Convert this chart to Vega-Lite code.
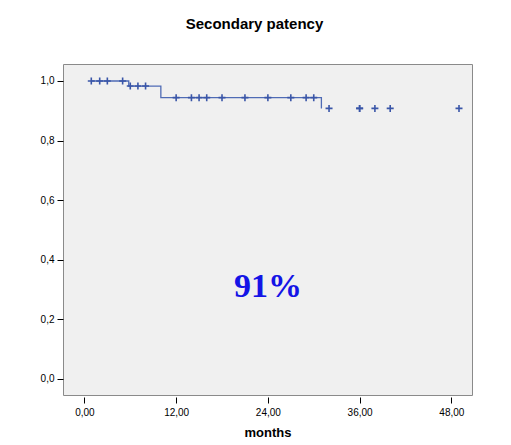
{
  "$schema": "https://vega.github.io/schema/vega-lite/v6.json",
  "width": 409,
  "height": 331,
  "autosize": "none",
  "padding": {"left": 63, "top": 64, "right": 39, "bottom": 50},
  "background": "white",
  "title": {
    "text": "Secondary patency",
    "font": "Liberation Sans",
    "fontSize": 15,
    "fontWeight": "bold",
    "color": "#000000",
    "anchor": "middle",
    "baseline": "alphabetic",
    "offset": 20,
    "dx": -13
  },
  "config": {
    "view": {"fill": "#f0f0f0", "stroke": "#8a8a8a", "strokeWidth": 1},
    "axis": {
      "grid": false,
      "domain": false,
      "tickColor": "#000000",
      "tickWidth": 1,
      "labelColor": "#000000",
      "labelFont": "Liberation Sans",
      "labelFontSize": 10,
      "titleFont": "Liberation Sans",
      "titleColor": "#000000"
    }
  },
  "datasets": {
    "curve": [
      {"month": 0.9, "survival": 1.0},
      {"month": 5.8, "survival": 0.983},
      {"month": 10.0, "survival": 0.944},
      {"month": 31.0, "survival": 0.908}
    ],
    "censored": [
      {"month": 0.9, "survival": 1.0},
      {"month": 2.0, "survival": 1.0},
      {"month": 3.0, "survival": 1.0},
      {"month": 5.0, "survival": 1.0},
      {"month": 6.0, "survival": 0.983},
      {"month": 7.0, "survival": 0.983},
      {"month": 8.0, "survival": 0.983},
      {"month": 12.0, "survival": 0.944},
      {"month": 14.0, "survival": 0.944},
      {"month": 15.0, "survival": 0.944},
      {"month": 16.0, "survival": 0.944},
      {"month": 18.0, "survival": 0.944},
      {"month": 21.0, "survival": 0.944},
      {"month": 24.0, "survival": 0.944},
      {"month": 27.0, "survival": 0.944},
      {"month": 29.0, "survival": 0.944},
      {"month": 30.0, "survival": 0.944},
      {"month": 32.0, "survival": 0.908},
      {"month": 36.0, "survival": 0.908},
      {"month": 36.0, "survival": 0.908},
      {"month": 38.0, "survival": 0.908},
      {"month": 40.0, "survival": 0.908},
      {"month": 49.0, "survival": 0.908}
    ],
    "annotation": [
      {"month": 24.0, "survival": 0.31, "label": "91%"}
    ]
  },
  "layer": [
    {
      "data": {"name": "curve"},
      "mark": {"type": "line", "interpolate": "step-after", "color": "#4f6bb5", "strokeWidth": 1.3},
      "encoding": {
        "x": {
          "field": "month",
          "type": "quantitative",
          "scale": {"domain": [-2.8, 50.7], "nice": false, "zero": false},
          "axis": {
            "values": [0, 12, 24, 36, 48],
            "labelExpr": "replace(format(datum.value, '.2f'), '.', ',')",
            "offset": 2,
            "tickSize": 6,
            "labelPadding": 12,
            "labelBaseline": "alphabetic",
            "title": "months",
            "titleFontSize": 13,
            "titleFontWeight": "bold",
            "titleBaseline": "alphabetic",
            "titleY": 39
          }
        },
        "y": {
          "field": "survival",
          "type": "quantitative",
          "scale": {"domain": [-0.054, 1.057], "nice": false, "zero": false},
          "axis": {
            "values": [0, 0.2, 0.4, 0.6, 0.8, 1.0],
            "labelExpr": "replace(format(datum.value, '.1f'), '.', ',')",
            "tickSize": 6,
            "labelPadding": 3,
            "title": null
          }
        }
      }
    },
    {
      "data": {"name": "censored"},
      "mark": {
        "type": "point",
        "shape": "M-1,0L1,0M0,-1L0,1",
        "size": 49,
        "filled": false,
        "stroke": "#3a56a8",
        "strokeWidth": 1.6,
        "opacity": 1
      },
      "encoding": {
        "x": {"field": "month", "type": "quantitative"},
        "y": {"field": "survival", "type": "quantitative"}
      }
    },
    {
      "data": {"name": "annotation"},
      "mark": {
        "type": "text",
        "font": "Liberation Serif",
        "fontSize": 34,
        "fontWeight": "bold",
        "color": "#1414e6",
        "baseline": "middle",
        "align": "center"
      },
      "encoding": {
        "x": {"field": "month", "type": "quantitative"},
        "y": {"field": "survival", "type": "quantitative"},
        "text": {"field": "label"}
      }
    }
  ]
}
